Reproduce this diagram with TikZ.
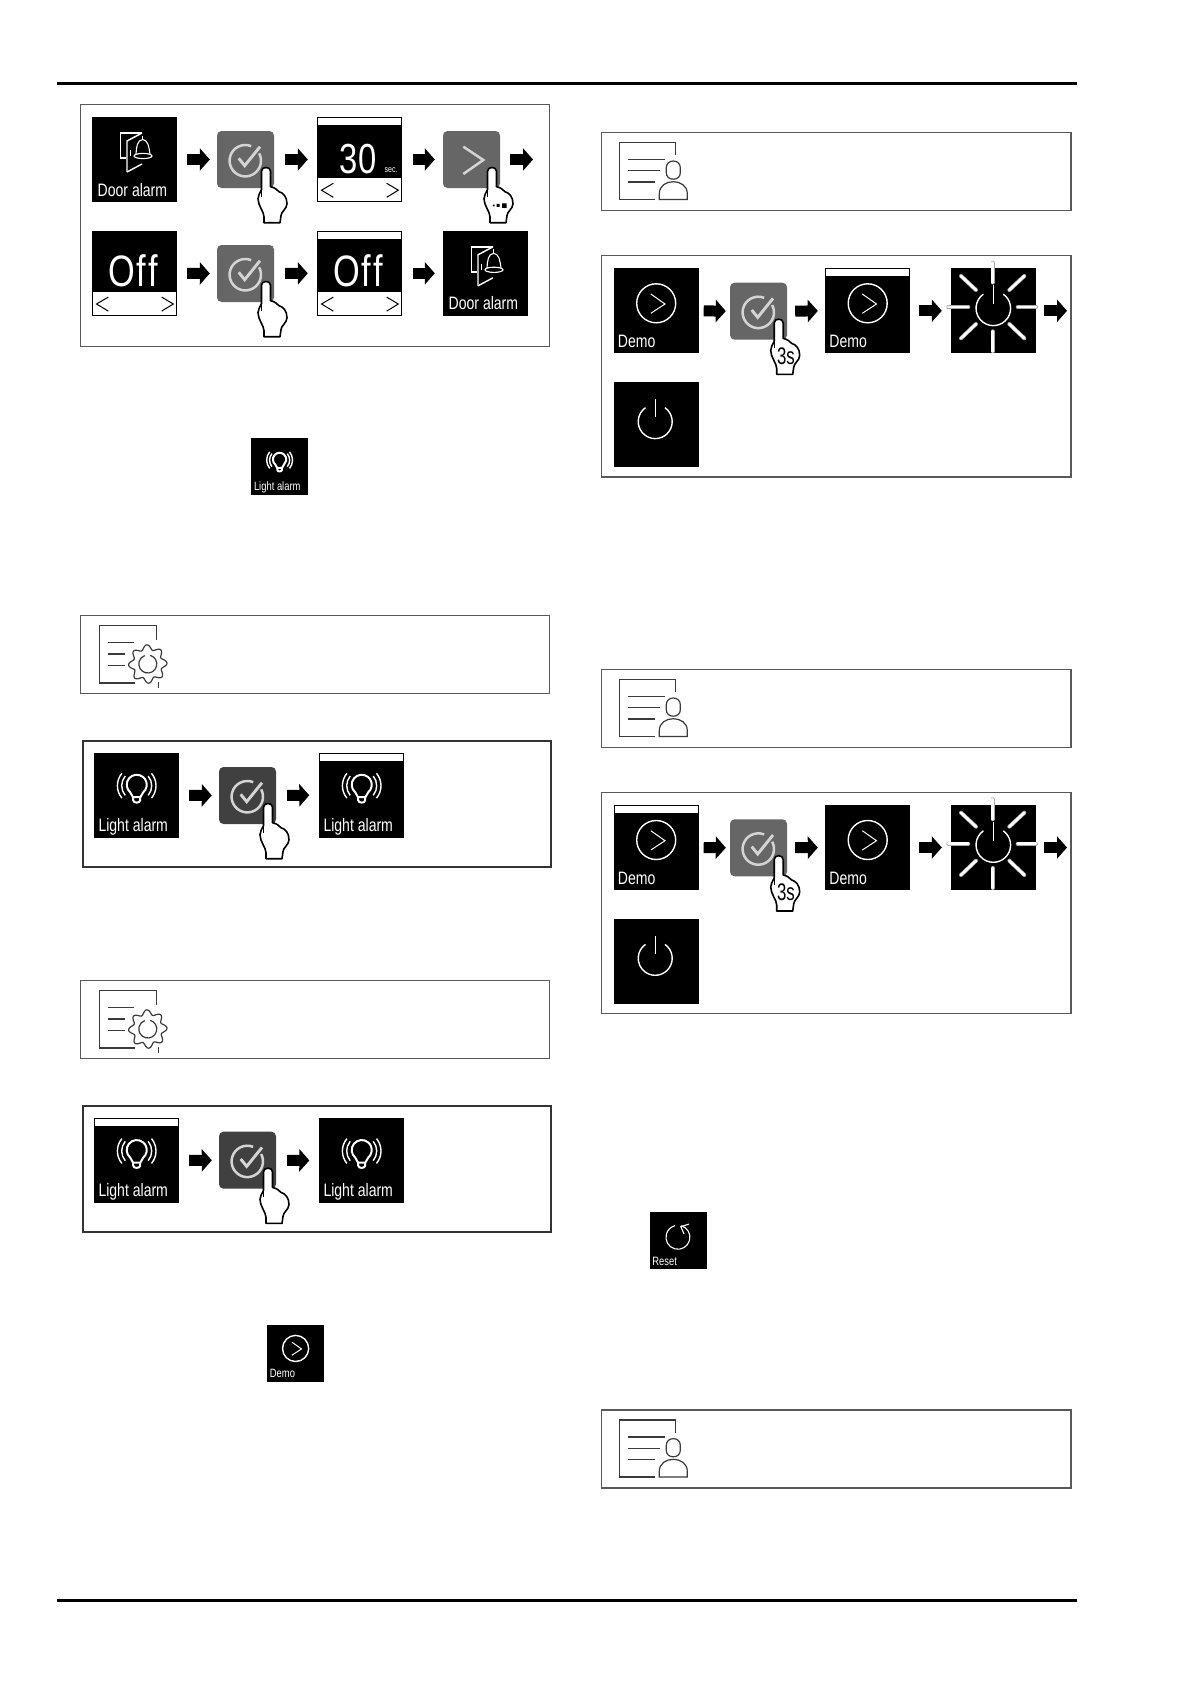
\documentclass[tikz,border=0pt]{standalone}
\usepackage{fontspec}
\usetikzlibrary{arrows.meta,shapes.misc}
\newfontfamily\pf[FakeStretch=0.78]{Liberation Sans}
\newfontfamily\pg[FakeStretch=0.7]{Liberation Sans}
\definecolor{btngray}{HTML}{666666}
\definecolor{btndark}{HTML}{404040}
\definecolor{marklight}{HTML}{D4D4D4}
\definecolor{raygray}{HTML}{A8A8A8}
\definecolor{iconline}{HTML}{3A3A3A}
\tikzset{
  panel/.style={draw=#1,anchor=north west,inner sep=0pt,fill=white},
  thin panel/.style={panel=black!65,line width=1.3pt},
  thick panel/.style={panel=black!80,line width=2pt},
  scr/.style={fill=black,minimum width=85pt,minimum height=85pt,inner sep=0pt,draw=none},
  btn/.style={fill=#1,rounded corners=4.5pt,minimum width=57pt,minimum height=57pt,inner sep=0pt,draw=none},
  scrlabel/.style={anchor=base west,inner sep=0pt,text=white,font=\pf\fontsize{18}{18}\selectfont},
  bigtext/.style={anchor=base west,inner sep=0pt,text=white,font=\pf\fontsize{#1}{#1}\selectfont},
  wl/.style={draw=white,line width=1.4pt},
  wm/.style={draw=white,line width=2pt},
  blockarrow/.style={line width=11pt,-{Triangle[length=10pt,width=22pt]},black},
  ic/.style={draw=iconline,line width=1.2pt},
  ray/.style={line cap=round},
  markline/.style={draw=marklight,line width=2.5pt},
}
% panel: name, left, top, width, height, style
\newcommand\dgPanel[6]{\node[#6,minimum width=#4pt,minimum height=#5pt] (#1) at (#2,#3) {};}
\newcommand\dgScreen[5]{\begin{scope}[shift={(#2,#3)},scale=#4,transform shape]\node[scr] (#1) at (42.5,42.5) {}; #5\end{scope}}
\newcommand\dgBtn[5]{\begin{scope}[shift={(#2,#3)}]\node[btn=#4] (#1) at (28.5,28.5) {}; #5\end{scope}}
\newcommand\dgCheck{%
  \draw[markline] (28.3,29.7) ++(-28:15.7) arc[start angle=-28,end angle=292,radius=15.7];
  \draw[draw=marklight,line width=2.9pt] (21.7,27.3) -- (27.7,34.7) -- (43,15.7);}
\newcommand\dgChevBtn{\draw[markline] (20.3,15.7) -- (40.3,29) -- (20.3,43);}
% hand, tip at x,y
\newcommand\dgHand[3]{\begin{scope}[shift={(#1,#2)}]
  \filldraw[fill=white,draw=black,line width=1.6pt,line join=round]
   (-4.5,3.5) .. controls (-4.5,-1.5) and (4.5,-1.5) .. (4.5,3.5) -- (4.5,19)
   .. controls (9,20) and (11,22) .. (13,24)
   .. controls (17,25) and (21,29) .. (21,36)
   .. controls (21,41) and (15,44) .. (15,48) -- (14,55) -- (-2,55) -- (-2,49)
   .. controls (-2,44) and (-8,38) .. (-8,31)
   .. controls (-8,28) and (-6,25) .. (-4.5,22) -- cycle;
  \draw[black,line width=1.2pt] (-4.5,22) -- (-4.5,29);
  #3\end{scope}}
\newcommand\dgDots[1]{\fill[black] (0.8,36.8) rectangle (2.6,38.6) (4.5,36.2) rectangle (7.5,39.2) (10,35.6) rectangle (14.5,40.1);}
\newcommand\dgThree[1]{\node[anchor=center,inner sep=0pt,text=black,font=\pg\fontsize{24}{24}\selectfont] (#1) at (7.3,36.7) {3s};}
\newcommand\dgArrow[4]{\draw[blockarrow,shorten <=#3pt,shorten >=#4pt] (#1.east) -- (#2.west);}
\newcommand\dgStrip{\fill[white] (1,1) rectangle (84,8);}
\newcommand\dgLow{\fill[white] (1,61.3) rectangle (84,84);
  \draw[black,line width=1pt] (16.3,66.3) -- (4.5,73.2) -- (16.3,80.3);
  \draw[black,line width=1pt] (69.7,66.3) -- (81.3,73.2) -- (69.7,80.3);}
\newcommand\dgDoor[1]{%
  \draw[wl,line join=miter] (33.5,41) -- (28.3,41) -- (28.3,16) -- (50,16);
  \draw[wl,line join=miter] (35,55) -- (35,24) -- (50,16);
  \draw[wl] (35,55) -- (50,47);
  \draw[wl] (38.5,33) -- (38.5,39);
  \draw[wl,line width=1.1pt] (44,37) .. controls (44.5,30) and (45,23) .. (50.8,22.5) .. controls (56,23) and (57,30) .. (58,37);
  \draw[wl,line width=1.1pt] (50.8,18.5) -- (50.8,22.5);
  \draw[wl,line width=1.1pt] (51,39) ellipse[x radius=9,y radius=2.6];
  \node[scrlabel] (#1) at (5.5,79) {Door alarm};}
\newcommand\dgBulb[1]{%
  \draw[wm] (39,44.5) -- (36.3,39.7) arc[start angle=130,end angle=410,radius=10] -- (46.4,44.5) -- cycle;
  \draw[wm] (39.2,45) -- (39.2,47.5) .. controls (39.2,50.7) and (46.2,50.7) .. (46.2,47.5) -- (46.2,45);
  \draw[wl] (42.7,33) ++(140:15) arc[start angle=140,end angle=220,radius=15];
  \draw[wl] (42.7,33) ++(140:19.3) arc[start angle=140,end angle=220,radius=19.3];
  \draw[wl] (42.7,33) ++(-40:15) arc[start angle=-40,end angle=40,radius=15];
  \draw[wl] (42.7,33) ++(-40:19.3) arc[start angle=-40,end angle=40,radius=19.3];
  \node[scrlabel] (#1) at (4.3,78.5) {Light alarm};}
\newcommand\dgDemo[1]{%
  \draw[wl] (42.7,35) circle[radius=19.5];
  \draw[wl,line width=1pt] (37.3,25.7) -- (51.5,35.7) -- (37.3,45);
  \node[scrlabel] (#1) at (4.2,79) {Demo};}
\newcommand\dgPower{%
  \draw[wl] (41.7,39.3) ++(-55:17) arc[start angle=-55,end angle=235,radius=17];
  \draw[wl] (41.7,17) -- (41.7,35);}
\newcommand\dgSun{%
  \draw[wl] (42.3,40) ++(-55:17.3) arc[start angle=-55,end angle=235,radius=17.3];
  \draw[wl] (42.3,16.7) -- (42.3,35.7);
  \foreach \ax/\ay/\bx/\by in {41.7/-5.7/41.7/14.3, 41.7/63/41.7/83, -2.7/38.7/17.3/38.7, 66.7/38.7/85/38.7, 10/7.7/25/21.7, 73.3/7.7/58.3/21.7, 10/70/25/55.7, 73.3/70/58.3/55.7}{
    \draw[ray,draw=raygray,line width=4pt] (\ax,\ay) -- (\bx,\by);
    \draw[ray,draw=white,line width=2.6pt] (\ax,\ay) -- (\bx,\by);}}
\newcommand\dgReset[1]{%
  \draw[wl,line width=1.1pt] (41.7,37.7) ++(-75:17.9) arc[start angle=-75,end angle=255,radius=17.9];
  \draw[wl,line width=1.1pt] (58,18) -- (46,22) -- (51,33);
  \node[scrlabel] (#1) at (3.4,79.5) {Reset};}
\newcommand\dgGearIcon[3]{\begin{scope}[shift={(#1,#2)}]
  \begin{scope}[shift={(20,10.3)}]\draw[ic,line join=miter] (35.7,57.7) -- (0,57.7) -- (0,0) -- (56.7,0) -- (56.7,15);\end{scope}
  \draw[ic] (28.7,27.3) -- (54.7,27.3) (28.7,39) -- (45.7,39) (28.7,50.3) -- (45.7,50.3);
  \draw[ic,line join=round] plot[domain=0:360,samples=145,smooth] ({68.3+(16.8+2.4*cos(8*\x+22))*cos(\x)},{49+(16.8+2.4*cos(8*\x+22))*sin(\x)});
  \draw[ic] (68.3,49) ++(-75:9) arc[start angle=-75,end angle=250,radius=9];
  \draw[ic,line width=.9pt] (79,67) -- (79,73);
  \end{scope}}
\newcommand\dgPersonIcon[3]{\begin{scope}[shift={(#1,#2)}]
  \begin{scope}[shift={(18,10.7)}]\draw[ic,line join=miter] (35.7,57) -- (0,57) -- (0,0) -- (56.3,0) -- (56.3,12.6);\end{scope}
  \draw[ic] (27,27.7) -- (63.7,27.7) (27,39) -- (58.7,39) (27,50.3) -- (54,50.3);
  \draw[ic] (72,29.3) .. controls (76,29.3) and (79,32) .. (79,36) -- (79,41) .. controls (79,45) and (76,47.5) .. (72,47.5) .. controls (68,47.5) and (65,45) .. (65,41) -- (65,36) .. controls (65,32) and (68,29.3) .. (72,29.3) -- cycle;
  \draw[ic] (58,67.7) -- (58,62) .. controls (58,54) and (65,50) .. (72,50) .. controls (79,50) and (86,54) .. (86,62) -- (86,67.7) -- cycle;
  \end{scope}}
\begin{document}
\begin{tikzpicture}[x=1pt,y=-1pt]
\useasboundingbox[fill=white] (0,0) rectangle (1191,1684);
% page rules
\coordinate (ruleTL) at (57,83.5); \coordinate (ruleTR) at (1077,83.5);
\coordinate (ruleBL) at (57,1600.5); \coordinate (ruleBR) at (1077,1600.5);
\draw[black,line width=3.3pt] (ruleTL) -- (ruleTR);
\draw[black,line width=3.3pt] (ruleBL) -- (ruleBR);

% ---- panel 1: door alarm
\dgPanel{p1}{79.5}{104}{469}{241.5}{thin panel}
\dgScreen{a1}{92}{117}{1}{\dgDoor{a1t}}
\dgBtn{b1}{217}{131}{btngray}{\dgCheck}
\dgScreen{a2}{317}{117}{1}{\dgStrip\dgLow\node[bigtext=42] (a2t) at (22,56.5) {3\kern1.5pt 0};\node[bigtext=9] (a2s) at (67.5,55) {sec.};}
\dgBtn{b2}{443}{131}{btngray}{\dgChevBtn}
\coordinate (e1) at (533,159.5);
\dgArrow{a1}{b1}{10}{7}
\dgArrow{b1}{a2}{11}{9}
\dgArrow{a2}{b2}{11}{8}
\draw[blockarrow,shorten <=10pt] (b2.east) -- (e1);
\dgHand{266}{167.7}{}
\dgHand{492}{167.7}{\dgDots{}}
\dgScreen{a3}{92}{230.8}{1}{\dgLow\node[bigtext=44] (a3t) at (16.5,55.5) {O\kern1.5pt f\kern2pt f};}
\dgBtn{b3}{217}{245}{btngray}{\dgCheck}
\dgScreen{a4}{317}{230.8}{1}{\dgStrip\dgLow\node[bigtext=44] (a4t) at (16.5,55.5) {O\kern1.5pt f\kern2pt f};}
\dgScreen{a5}{443}{230.8}{1}{\dgDoor{a5t}}
\dgArrow{a3}{b3}{10}{7}
\dgArrow{b3}{a4}{11}{9}
\dgArrow{a4}{a5}{11}{8}
\dgHand{266}{281.7}{}

% small light alarm icon
\dgScreen{q1}{251}{438}{0.67}{\dgBulb{q1t}}

% ---- gear panel 1
\dgPanel{p2}{79.5}{615}{469}{78}{thin panel}
\dgGearIcon{79.5}{615}{}

% ---- light panel 1
\dgPanel{p3}{81.7}{740}{468.6}{125.5}{thick panel}
\dgScreen{c1}{94}{752.7}{1}{\dgBulb{c1t}}
\dgBtn{c2}{219}{767}{btndark}{\dgCheck}
\dgScreen{c3}{319}{752.7}{1}{\dgStrip\dgBulb{c3t}}
\dgArrow{c1}{c2}{10}{7}
\dgArrow{c2}{c3}{11}{9.5}
\dgHand{268}{803.7}{}

% ---- gear panel 2
\dgPanel{p4}{79.5}{980}{469}{78}{thin panel}
\dgGearIcon{79.5}{980}{}

% ---- light panel 2
\dgPanel{p5}{81.7}{1105}{468.6}{125.5}{thick panel}
\dgScreen{d1}{94}{1118}{1}{\dgStrip\dgBulb{d1t}}
\dgBtn{d2}{219}{1131.7}{btndark}{\dgCheck}
\dgScreen{d3}{319}{1118}{1}{\dgBulb{d3t}}
\dgArrow{d1}{d2}{10}{7}
\dgArrow{d2}{d3}{11}{9.5}
\dgHand{268}{1168.4}{}

% small demo icon
\dgScreen{q2}{267}{1325}{0.67}{\dgDemo{q2t}}

% ---- person panel 1
\dgPanel{p6}{600.8}{131.7}{469.5}{78}{thin panel}
\dgPersonIcon{601.3}{131.7}{}

% ---- demo panel 1
\dgPanel{p7}{600.8}{254.7}{469.5}{221.5}{thin panel}
\dgScreen{f1}{613.5}{268.3}{1}{\dgDemo{f1t}}
\dgBtn{f2}{730}{282.7}{btngray}{\dgCheck}
\dgScreen{f3}{825}{268.3}{1}{\dgStrip\dgDemo{f3t}}
\dgScreen{f4}{951}{268.3}{1}{\dgSun}
\dgScreen{f5}{613.5}{382.3}{1}{\dgPower}
\coordinate (e2) at (1067,310.8);
\dgArrow{f1}{f2}{5}{4}
\dgArrow{f2}{f3}{8}{7}
\dgArrow{f3}{f4}{9}{9}
\draw[blockarrow,shorten <=8pt] (f4.east) -- (e2);
\dgHand{778.7}{319.4}{\dgThree{f2h}}

% ---- person panel 2
\dgPanel{p8}{600.8}{668.7}{469.5}{78}{thin panel}
\dgPersonIcon{601.3}{668.7}{}

% ---- demo panel 2
\dgPanel{p9}{600.8}{791.7}{469.5}{221}{thin panel}
\dgScreen{g1}{613.5}{805}{1}{\dgStrip\dgDemo{g1t}}
\dgBtn{g2}{730}{819.3}{btngray}{\dgCheck}
\dgScreen{g3}{825}{805}{1}{\dgDemo{g3t}}
\dgScreen{g4}{951}{805}{1}{\dgSun}
\dgScreen{g5}{613.5}{919}{1}{\dgPower}
\coordinate (e3) at (1067,847.5);
\dgArrow{g1}{g2}{5}{4}
\dgArrow{g2}{g3}{8}{7}
\dgArrow{g3}{g4}{9}{9}
\draw[blockarrow,shorten <=8pt] (g4.east) -- (e3);
\dgHand{778.7}{856}{\dgThree{g2h}}

% small reset icon
\dgScreen{q3}{650}{1212}{0.67}{\dgReset{q3t}}

% ---- person panel 3
\dgPanel{p10}{600.8}{1409.3}{469.5}{78}{thin panel}
\dgPersonIcon{601.3}{1409.3}{}
\end{tikzpicture}
\end{document}
